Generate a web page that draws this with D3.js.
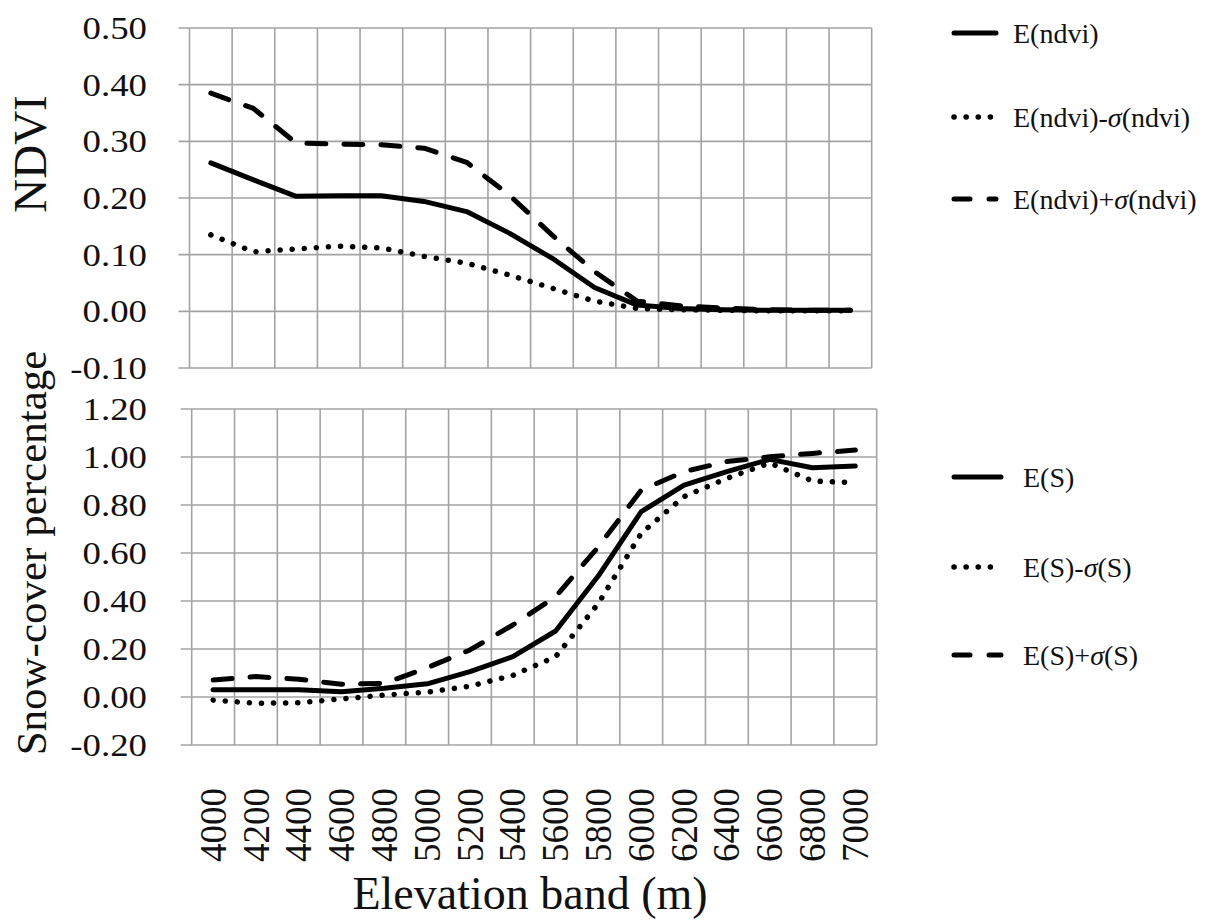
<!DOCTYPE html>
<html>
<head>
<meta charset="utf-8">
<script src="https://cdn.jsdelivr.net/npm/d3@7"></script>
<style>
  html, body { margin: 0; padding: 0; background: #fff; }
  svg { display: block; }
</style>
</head>
<body>
<svg id="chart" width="1207" height="920" font-family="'Liberation Serif', serif"></svg>
<script>
// ---------- data ----------
const categories = ["4000","4200","4400","4600","4800","5000","5200","5400","5600","5800","6000","6200","6400","6600","6800","7000"];

const ndviMean  = [0.262, 0.232, 0.203, 0.204, 0.204, 0.194, 0.176, 0.138, 0.094, 0.042, 0.011, 0.005, 0.003, 0.002, 0.002, 0.002];
const ndviMinus = [0.135, 0.105, 0.110, 0.115, 0.112, 0.097, 0.085, 0.064, 0.041, 0.018, 0.005, 0.003, 0.002, 0.001, 0.001, 0.001];
const ndviPlus  = [0.385, 0.358, 0.297, 0.295, 0.294, 0.288, 0.263, 0.205, 0.135, 0.070, 0.018, 0.010, 0.006, 0.003, 0.002, 0.002];

const snowMean  = [0.030, 0.030, 0.030, 0.022, 0.036, 0.055, 0.106, 0.168, 0.275, 0.505, 0.772, 0.883, 0.939, 0.990, 0.955, 0.962];
const snowMinus = [-0.013, -0.026, -0.024, -0.008, 0.008, 0.020, 0.045, 0.090, 0.168, 0.390, 0.682, 0.835, 0.911, 0.975, 0.900, 0.893];
const snowPlus  = [0.071, 0.085, 0.074, 0.053, 0.057, 0.122, 0.196, 0.300, 0.418, 0.626, 0.862, 0.939, 0.981, 1.001, 1.015, 1.029];

const ndviTicks = [0.5, 0.4, 0.3, 0.2, 0.1, 0.0, -0.1];
const snowTicks = [1.2, 1.0, 0.8, 0.6, 0.4, 0.2, 0.0, -0.2];

const ndviLegend = ["E(ndvi)", "E(ndvi)-σ(ndvi)", "E(ndvi)+σ(ndvi)"];
const snowLegend = ["E(S)", "E(S)-σ(S)", "E(S)+σ(S)"];

const xTitle = "Elevation band (m)";
const ndviTitle = "NDVI";
const snowTitle = "Snow-cover percentage";

// ---------- drawing ----------
const svg = d3.select("#chart");
const fmt = d => d3.format(".2f")(d).replace("−", "-");
const gridColor = "#a3a3a3";
const FONT = "'Liberation Serif', 'Times New Roman', serif";

const styles = [
  { dash: null, width: 5, cap: "round" },          // mean (solid)
  { dash: "0.1,12", width: 5.5, cap: "round" },    // minus (dotted)
  { dash: "19,18", width: 5, cap: "round" }        // plus (dashed)
];

function panel(opts) {
  const x = d3.scaleBand().domain(categories).range([opts.left, opts.right]).padding(0);
  const y = d3.scaleLinear().domain(opts.domain).range([opts.bottom, opts.top]);
  const g = svg.append("g");

  g.selectAll("line.h").data(opts.ticks).join("line")
    .attr("x1", opts.left - 11).attr("x2", opts.right)
    .attr("y1", d => y(d)).attr("y2", d => y(d))
    .attr("stroke", gridColor).attr("stroke-width", 1.6);

  const bounds = categories.map(c => x(c)).concat([x.range()[1]]);
  g.selectAll("line.v").data(bounds).join("line")
    .attr("x1", d => d).attr("x2", d => d)
    .attr("y1", y(opts.domain[1])).attr("y2", y(opts.domain[0]))
    .attr("stroke", gridColor).attr("stroke-width", 1.6);

  g.selectAll("g.tl").data(opts.ticks).join("g")
    .attr("transform", d => `translate(147,${y(d)}) scale(1.15,1)`)
    .append("text")
    .attr("text-anchor", "end")
    .attr("dy", "0.34em")
    .attr("font-family", FONT)
    .attr("fill", "#111")
    .style("font-size", "32px")
    .text(d => fmt(d));

  const line = d3.line()
    .x((d, i) => x(categories[i]) + x.bandwidth() / 2)
    .y(d => y(d));
  opts.series.forEach((s, k) => {
    const st = styles[k];
    g.append("path")
      .datum(s)
      .attr("d", line)
      .attr("fill", "none")
      .attr("stroke", "#000")
      .attr("stroke-width", st.width)
      .attr("stroke-linecap", st.cap)
      .attr("stroke-linejoin", "round")
      .attr("stroke-dasharray", st.dash);
  });
  return { x, y };
}

const ndviPanel = panel({
  left: 189.5, right: 871.7, top: 28, bottom: 368,
  domain: [-0.1, 0.5], ticks: ndviTicks,
  series: [ndviMean, ndviMinus, ndviPlus]
});

const snowPanel = panel({
  left: 191.7, right: 876.7, top: 409, bottom: 745,
  domain: [-0.2, 1.2], ticks: snowTicks,
  series: [snowMean, snowMinus, snowPlus]
});

svg.append("g").selectAll("text").data(categories).join("text")
  .attr("transform", d => `translate(${snowPanel.x(d) + snowPanel.x.bandwidth() / 2},788) rotate(-90)`)
  .attr("text-anchor", "end")
  .attr("dy", "0.34em")
  .attr("font-family", FONT)
  .attr("fill", "#111")
  .style("font-size", "37px")
  .text(d => d);

svg.append("text")
  .attr("transform", "translate(46,154) rotate(-90)")
  .attr("text-anchor", "middle")
  .attr("font-family", FONT)
  .attr("fill", "#111")
  .style("font-size", "47px")
  .text(ndviTitle);

svg.append("text")
  .attr("transform", "translate(46,553) rotate(-90)")
  .attr("text-anchor", "middle")
  .attr("font-family", FONT)
  .attr("fill", "#111")
  .style("font-size", "43px")
  .text(snowTitle);

svg.append("text")
  .attr("x", 530).attr("y", 909)
  .attr("text-anchor", "middle")
  .attr("font-family", FONT)
  .attr("fill", "#111")
  .style("font-size", "46px")
  .text(xTitle);

function legend(items, rows, x1, x2, tx) {
  const g = svg.append("g");
  items.forEach((label, k) => {
    const st = styles[k];
    const yy = rows[k];
    g.append("line")
      .attr("x1", x1 + 2).attr("x2", x2 - 2)
      .attr("y1", yy).attr("y2", yy)
      .attr("stroke", "#000")
      .attr("stroke-width", st.width)
      .attr("stroke-linecap", st.cap)
      .attr("stroke-dasharray", k === 2 ? "16,19" : st.dash);
    const t = g.append("text")
      .attr("x", tx).attr("y", yy + 10)
      .attr("font-family", FONT)
      .attr("fill", "#111")
      .style("font-size", "28px");
    label.split(/(σ)/).forEach(part => {
      if (!part) return;
      const ts = t.append("tspan").text(part);
      if (part === "σ") ts.style("font-style", "italic");
    });
  });
}

legend(ndviLegend, [33, 117, 199], 952, 998, 1013);
legend(snowLegend, [477, 567, 655], 952, 1003, 1023);
</script>
</body>
</html>
